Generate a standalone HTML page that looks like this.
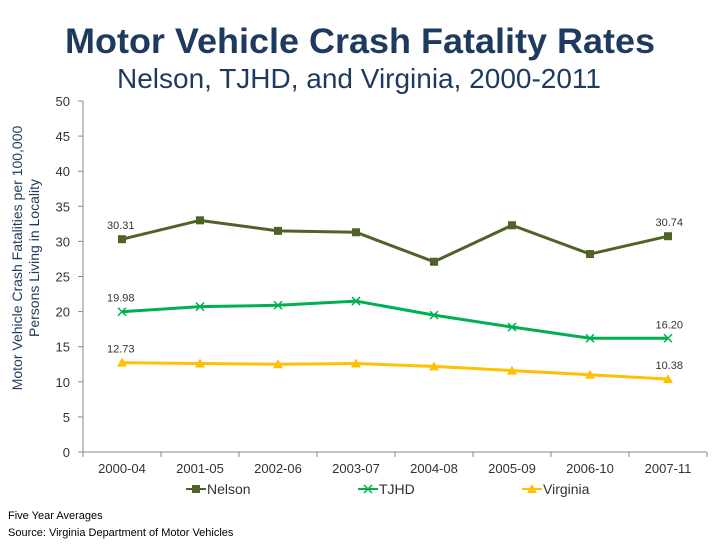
<!DOCTYPE html>
<html><head><meta charset="utf-8"><style>
body{margin:0;background:#fff;font-family:"Liberation Sans",sans-serif}
svg text{font-family:"Liberation Sans",sans-serif}
</style></head><body>
<svg width="720" height="540">
<text x="360" y="53" text-anchor="middle" font-size="35" font-weight="bold" fill="#1f3a5f" textLength="590" lengthAdjust="spacingAndGlyphs">Motor Vehicle Crash Fatality Rates</text>
<text x="359" y="88" text-anchor="middle" font-size="28" fill="#1f3a5f" textLength="484" lengthAdjust="spacingAndGlyphs">Nelson, TJHD, and Virginia, 2000-2011</text>
<text transform="translate(22,258) rotate(-90)" text-anchor="middle" font-size="14" fill="#1f3a5f"><tspan x="0" dy="0">Motor Vehicle Crash Fatalities per 100,000</tspan><tspan x="0" dy="17">Persons Living in Locality</tspan></text>
<g id="axes"></g><g id="series"></g>
<text x="8" y="519" font-size="11" fill="#000">Five  Year Averages</text>
<text x="8" y="536" font-size="11" fill="#000">Source: Virginia Department of Motor Vehicles</text>
</svg>
<script>
const categories=["2000-04","2001-05","2002-06","2003-07","2004-08","2005-09","2006-10","2007-11"];
const nelson=[30.31,33.0,31.5,31.3,27.1,32.3,28.2,30.74];
const tjhd=[19.98,20.7,20.9,21.5,19.5,17.8,16.2,16.2];
const virginia=[12.73,12.6,12.5,12.6,12.2,11.6,11.0,10.38];
const yTicks=[0,5,10,15,20,25,30,35,40,45,50];
const NS="http://www.w3.org/2000/svg";
const X0=83,X1=707,Y0=452,Y1=101;
const step=(X1-X0)/categories.length;
const xs=i=>X0+step*(i+0.5);
const ys=v=>Y0-(v/50)*(Y0-Y1);
function mk(t,a,p){const e=document.createElementNS(NS,t);for(const k in a)e.setAttribute(k,a[k]);p.appendChild(e);return e;}
const ax=document.getElementById('axes'),se=document.getElementById('series');
const yl=mk('line',{x1:X0,y1:Y1,x2:X0,y2:Y0,stroke:'#888'},ax);


const xl=mk('line',{x1:X0,y1:Y0,x2:X1,y2:Y0,stroke:'#888'},ax);


yTicks.forEach(v=>{mk('line',{x1:X0-5,y1:ys(v),x2:X0,y2:ys(v),stroke:'#888'},ax);
const t=mk('text',{x:70,y:ys(v)+5,'text-anchor':'end','font-size':13,fill:'#333'},ax);t.textContent=v;

});
categories.forEach((c,i)=>{mk('line',{x1:X0+step*i,y1:Y0,x2:X0+step*i,y2:Y0+5,stroke:'#888'},ax);
const t=mk('text',{x:xs(i),y:473,'text-anchor':'middle','font-size':13,fill:'#333'},ax);t.textContent=c;

});
mk('line',{x1:X1,y1:Y0,x2:X1,y2:Y0+5,stroke:'#888'},ax);
function marker(type,x,y,col,g){
 if(type==='sq')mk('rect',{x:x-4,y:y-4,width:8,height:8,fill:col},g);
 else if(type==='x'){mk('path',{d:`M${x-4} ${y-4}L${x+4} ${y+4}M${x-4} ${y+4}L${x+4} ${y-4}`,stroke:col,'stroke-width':1.5},g);}
 else mk('path',{d:`M${x} ${y-5}L${x+5} ${y+4}L${x-5} ${y+4}Z`,fill:col},g);}
function series(name,data,col,type){
 const g=mk('g',{},se);
 
 
 mk('polyline',{points:data.map((v,i)=>xs(i)+','+ys(v)).join(' '),fill:'none',stroke:col,'stroke-width':3},g);
 data.forEach((v,i)=>marker(type,xs(i),ys(v),col,g));
 const a=mk('text',{x:xs(0)-15,y:ys(data[0])-10,'font-size':11,fill:'#333'},g);a.textContent=data[0].toFixed(2);
 const b=mk('text',{x:xs(7)+15,y:ys(data[7])-10,'text-anchor':'end','font-size':11,fill:'#333'},g);b.textContent=data[7].toFixed(2);
}
series('nelson',nelson,'#4f6228','sq');
series('tjhd',tjhd,'#00b050','x');
series('virginia',virginia,'#ffc000','tri');
[['Nelson','#4f6228','sq',186],['TJHD','#00b050','x',358],['Virginia','#ffc000','tri',522]].forEach(([n,c,t,x])=>{
 const g=mk('g',{},se);
 
 
 mk('line',{x1:x,y1:489,x2:x+20,y2:489,stroke:c,'stroke-width':2},g);
 marker(t,x+10,489,c,g);
 const tx=mk('text',{x:x+21,y:494,'font-size':14,fill:'#333'},g);tx.textContent=n;});
</script>
</body></html>
